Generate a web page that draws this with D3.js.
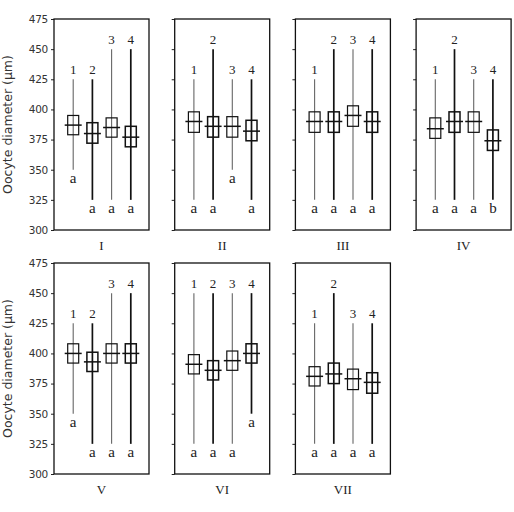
<!DOCTYPE html>
<html>
<head>
<meta charset="utf-8">
<script src="https://cdn.jsdelivr.net/npm/d3@7"></script>
<style>
  body { margin: 0; background: #fff; }
</style>
</head>
<body>
<div id="chart-area"></div>
<script>
// values, one entry per panel, one column per group 1-4
var panels = ['I', 'II', 'III', 'IV', 'V', 'VI', 'VII'];
var groups = ['1', '2', '3', '4'];
var yTicks = [300, 325, 350, 375, 400, 425, 450, 475];

var whiskerHigh = [
  [425, 425, 450, 450],
  [425, 450, 425, 425],
  [425, 450, 450, 450],
  [425, 450, 425, 425],
  [425, 425, 450, 450],
  [450, 450, 450, 450],
  [425, 450, 425, 425]
];
var whiskerLow = [
  [350, 325, 325, 325],
  [325, 325, 350, 325],
  [325, 325, 325, 325],
  [325, 325, 325, 325],
  [350, 325, 325, 325],
  [325, 325, 325, 350],
  [325, 325, 325, 325]
];
var boxHigh = [
  [395, 389, 393, 386],
  [398, 394, 394, 391],
  [398, 398, 403, 398],
  [393, 398, 398, 383],
  [408, 401, 408, 408],
  [399, 394, 402, 408],
  [389, 392, 387, 384]
];
var boxLow = [
  [379, 372, 377, 369],
  [381, 377, 377, 374],
  [381, 381, 386, 381],
  [376, 381, 381, 366],
  [392, 385, 392, 392],
  [383, 378, 386, 392],
  [373, 375, 370, 367]
];
var centre = [
  [387, 380, 385, 377],
  [390, 386, 386, 382],
  [390, 390, 395, 390],
  [384, 390, 390, 374],
  [400, 393, 400, 400],
  [391, 386, 394, 400],
  [381, 383, 379, 376]
];
var letters = [
  ['a', 'a', 'a', 'a'],
  ['a', 'a', 'a', 'a'],
  ['a', 'a', 'a', 'a'],
  ['a', 'a', 'a', 'b'],
  ['a', 'a', 'a', 'a'],
  ['a', 'a', 'a', 'a'],
  ['a', 'a', 'a', 'a']
];

var svg = d3.select('#chart-area')
  .append('svg')
    .attr('width', 514)
    .attr('height', 512);

var panelWidth = 95,
  left0 = 54,
  colStep = 120.7;

// one y scale per row of panels
var rowScales = [
  d3.scaleLinear().domain([300, 475]).range([230, 19]),
  d3.scaleLinear().domain([300, 475]).range([474, 263])
];

var xScale = d3.scalePoint()
  .domain(groups)
  .range([0, 96])
  .padding(1);

var serif = 'Liberation Serif, Times New Roman, serif';
var sans = 'DejaVu Sans, Verdana, sans-serif';

panels.forEach(function (name, p) {
  var row = p < 4 ? 0 : 1,
    col = p % 4,
    y = rowScales[row],
    g = svg.append('g')
      .attr('transform', 'translate(' + (left0 + col * colStep) + ',0)');

  // y axis: labels only on the first panel of each row
  var axis = d3.axisLeft(y)
    .tickValues(yTicks)
    .tickSize(3)
    .tickFormat(col === 0 ? d3.format('d') : '');
  var ax = g.append('g').call(axis);
  ax.select('.domain').remove();
  ax.selectAll('line').attr('stroke', '#222');
  ax.selectAll('text')
    .attr('font-family', sans)
    .attr('font-size', '10.5px')
    .attr('fill', '#333')
    .attr('letter-spacing', '-0.3px');

  if (col === 0) {
    g.append('text')
      .attr('transform', 'translate(' + (12 - left0) + ',' + ((y.range()[0] + y.range()[1]) / 2) + ') rotate(-90)')
      .attr('text-anchor', 'middle')
      .attr('font-family', sans)
      .attr('font-size', '12.5px')
      .attr('fill', '#333')
      .text('Oocyte diameter (\u00b5m)');
  }

  groups.forEach(function (grp, i) {
    var x = xScale(grp),
      dark = i % 2 === 1;

    g.append('line')
      .attr('x1', x).attr('x2', x)
      .attr('y1', y(whiskerHigh[p][i]))
      .attr('y2', y(whiskerLow[p][i]))
      .attr('stroke', dark ? '#111' : '#666')
      .attr('stroke-width', dark ? 1.7 : 1.1);

    g.append('rect')
      .attr('x', x - 5.5)
      .attr('width', 11)
      .attr('y', y(boxHigh[p][i]))
      .attr('height', y(boxLow[p][i]) - y(boxHigh[p][i]))
      .attr('fill', 'none')
      .attr('stroke', '#111')
      .attr('stroke-width', dark ? 1.5 : 1.2);

    g.append('line')
      .attr('x1', x - 8.5).attr('x2', x + 8.5)
      .attr('y1', y(centre[p][i]))
      .attr('y2', y(centre[p][i]))
      .attr('stroke', '#111')
      .attr('stroke-width', 1.5);

    g.append('text')
      .attr('x', x)
      .attr('y', y(whiskerHigh[p][i]) - 5)
      .attr('text-anchor', 'middle')
      .attr('font-family', serif)
      .attr('font-size', '13px')
      .attr('fill', '#222')
      .text(grp);

    g.append('text')
      .attr('x', x)
      .attr('y', y(whiskerLow[p][i]) + 13)
      .attr('text-anchor', 'middle')
      .attr('font-family', serif)
      .attr('font-size', '15px')
      .attr('fill', '#222')
      .text(letters[p][i]);
  });

  // panel frame
  g.append('rect')
    .attr('x', 0)
    .attr('y', y.range()[1])
    .attr('width', panelWidth)
    .attr('height', y.range()[0] - y.range()[1])
    .attr('fill', 'none')
    .attr('stroke', '#111')
    .attr('stroke-width', 1.3);

  g.append('text')
    .attr('x', panelWidth / 2)
    .attr('y', y.range()[0] + 20)
    .attr('text-anchor', 'middle')
    .attr('font-family', serif)
    .attr('font-size', '13px')
    .attr('fill', '#222')
    .text(name);
});
</script>
</body>
</html>
